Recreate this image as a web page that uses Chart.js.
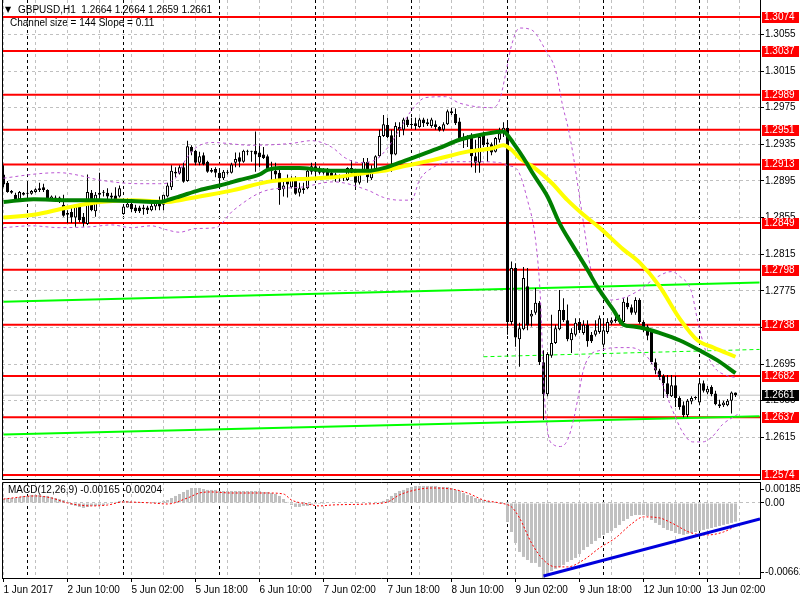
<!DOCTYPE html>
<html><head><meta charset="utf-8">
<script src="https://cdn.jsdelivr.net/npm/chart.js@4.4.1/dist/chart.umd.min.js"></script>
<style>
html,body{margin:0;padding:0;background:#fff;}
#wrap{position:relative;width:800px;height:600px;overflow:hidden;background:#fff;}
canvas{position:absolute;left:0;}
#main{top:0;}
#macd{top:468px;}
.lbl{position:absolute;font-family:'Liberation Sans',Arial,sans-serif;font-size:10px;color:#000;white-space:pre;line-height:12px;}
</style></head><body>
<div id="wrap">
<canvas id="main" width="800" height="480"></canvas>
<canvas id="macd" width="800" height="132"></canvas>
<div class="lbl" style="left:5px;top:4px;font-family:'DejaVu Sans';font-size:8px;">▼</div>
<div class="lbl" style="left:18px;top:4px;">GBPUSD,H1  1.2664 1.2664 1.2659 1.2661</div>
<div class="lbl" style="left:10px;top:17px;">Channel size = 144 Slope = 0.11</div>
<div class="lbl" style="left:8px;top:484px;">MACD(12,26,9) -0.00165 -0.00204</div>
</div>
<script>
// ---------- DATA ----------
const opens = [
1.2902,1.2893,1.2884,1.2880,1.2875,1.2880,1.2881,1.2881,1.2883,1.2885,
1.2888,1.2885,1.2874,1.2877,1.2877,1.2869,1.2860,1.2861,1.2855,1.2867,
1.2856,1.2848,1.2882,1.2862,1.2880,1.2882,1.2882,1.2879,1.2879,1.2878,
1.2859,1.2866,1.2870,1.2866,1.2866,1.2866,1.2866,1.2863,1.2867,1.2872,
1.2869,1.2878,1.2888,1.2905,1.2903,1.2910,1.2895,1.2932,1.2928,1.2915,
1.2923,1.2916,1.2907,1.2908,1.2904,1.2898,1.2904,1.2904,1.2915,1.2921,
1.2916,1.2928,1.2927,1.2928,1.2926,1.2924,1.2922,1.2909,1.2906,1.2904,
1.2886,1.2898,1.2888,1.2898,1.2882,1.2887,1.2887,1.2905,1.2911,1.2908,
1.2905,1.2905,1.2904,1.2902,1.2899,1.2899,1.2896,1.2909,1.2905,1.2893,
1.2904,1.2916,1.2898,1.2906,1.2922,1.2944,1.2956,1.2945,1.2924,1.2954,
1.2951,1.2962,1.2957,1.2958,1.2954,1.2962,1.2959,1.2955,1.2957,1.2954,
1.2951,1.2957,1.2971,1.2968,1.2960,1.2943,1.2941,1.2943,1.2922,1.2915,
1.2945,1.2937,1.2935,1.2927,1.2940,1.2947,1.2953,1.2741,1.2800,1.2722,
1.2733,1.2780,1.2747,1.2751,1.2762,1.2697,1.2662,1.2704,1.2718,1.2733,
1.2754,1.2743,1.2721,1.2727,1.2741,1.2729,1.2738,1.2727,1.2727,1.2730,
1.2716,1.2730,1.2740,1.2742,1.2744,1.2741,1.2762,1.2757,1.2751,1.2765,
1.2741,1.2736,1.2730,1.2697,1.2688,1.2682,1.2674,1.2660,1.2672,1.2658,
1.2650,1.2639,1.2654,1.2658,1.2653,1.2674,1.2664,1.2670,1.2663,1.2651,
1.2650,1.2650,1.2655,1.2664];
const highs = [
1.2912,1.2895,1.2885,1.2882,1.2884,1.2883,1.2894,1.2885,1.2887,1.2893,
1.2892,1.2886,1.2879,1.2879,1.2878,1.2880,1.2863,1.2867,1.2869,1.2869,
1.2860,1.2902,1.2885,1.2883,1.2904,1.2885,1.2887,1.2882,1.2888,1.2890,
1.2869,1.2876,1.2872,1.2869,1.2868,1.2869,1.2868,1.2870,1.2874,1.2878,
1.2880,1.2893,1.2912,1.2910,1.2912,1.2915,1.2939,1.2934,1.2929,1.2927,
1.2926,1.2917,1.2909,1.2910,1.2909,1.2907,1.2907,1.2915,1.2926,1.2926,
1.2929,1.2929,1.2928,1.2949,1.2936,1.2932,1.2924,1.2916,1.2915,1.2907,
1.2896,1.2902,1.2900,1.2900,1.2893,1.2893,1.2907,1.2915,1.2915,1.2911,
1.2909,1.2909,1.2906,1.2904,1.2902,1.2900,1.2910,1.2918,1.2907,1.2905,
1.2920,1.2920,1.2912,1.2923,1.2951,1.2967,1.2964,1.2951,1.2959,1.2959,
1.2964,1.2965,1.2964,1.2964,1.2964,1.2964,1.2963,1.2964,1.2961,1.2955,
1.2959,1.2973,1.2975,1.2974,1.2964,1.2947,1.2945,1.2947,1.2940,1.2945,
1.2949,1.2941,1.2937,1.2943,1.2953,1.2959,1.2959,1.2807,1.2805,1.2740,
1.2801,1.2800,1.2754,1.2778,1.2764,1.2710,1.2708,1.2749,1.2738,1.2776,
1.2767,1.2760,1.2734,1.2745,1.2745,1.2743,1.2743,1.2730,1.2743,1.2748,
1.2745,1.2745,1.2746,1.2748,1.2749,1.2767,1.2768,1.2760,1.2768,1.2767,
1.2743,1.2738,1.2732,1.2701,1.2690,1.2684,1.2683,1.2683,1.2682,1.2660,
1.2654,1.2657,1.2660,1.2660,1.2678,1.2677,1.2671,1.2672,1.2666,1.2656,
1.2655,1.2657,1.2665,1.2664];
const lows = [
1.2888,1.2882,1.2881,1.2872,1.2874,1.2879,1.2874,1.2880,1.2882,1.2883,
1.2883,1.2873,1.2873,1.2874,1.2871,1.2856,1.2849,1.2849,1.2845,1.2850,
1.2845,1.2847,1.2862,1.2856,1.2874,1.2878,1.2874,1.2874,1.2874,1.2877,
1.2858,1.2866,1.2861,1.2860,1.2860,1.2858,1.2859,1.2862,1.2863,1.2863,
1.2863,1.2877,1.2885,1.2899,1.2902,1.2893,1.2894,1.2923,1.2912,1.2912,
1.2912,1.2904,1.2904,1.2899,1.2891,1.2896,1.2902,1.2903,1.2910,1.2910,
1.2915,1.2923,1.2916,1.2905,1.2910,1.2919,1.2907,1.2896,1.2894,1.2869,
1.2878,1.2877,1.2887,1.2880,1.2878,1.2881,1.2886,1.2902,1.2902,1.2902,
1.2902,1.2898,1.2898,1.2894,1.2894,1.2895,1.2895,1.2902,1.2885,1.2891,
1.2902,1.2893,1.2896,1.2905,1.2921,1.2943,1.2942,1.2905,1.2923,1.2943,
1.2945,1.2954,1.2954,1.2951,1.2953,1.2954,1.2955,1.2953,1.2951,1.2949,
1.2949,1.2956,1.2967,1.2956,1.2938,1.2931,1.2932,1.2910,1.2904,1.2904,
1.2932,1.2916,1.2923,1.2926,1.2937,1.2943,1.2727,1.2738,1.2714,1.2692,
1.2732,1.2732,1.2736,1.2749,1.2694,1.2634,1.2660,1.2702,1.2717,1.2732,
1.2741,1.2720,1.2707,1.2725,1.2729,1.2727,1.2714,1.2718,1.2725,1.2728,
1.2713,1.2728,1.2738,1.2740,1.2739,1.2739,1.2755,1.2749,1.2749,1.2739,
1.2730,1.2721,1.2695,1.2684,1.2678,1.2658,1.2658,1.2659,1.2648,1.2645,
1.2637,1.2637,1.2651,1.2656,1.2650,1.2664,1.2662,1.2660,1.2650,1.2647,
1.2648,1.2649,1.2641,1.2659];
const closes = [
1.2891,1.2883,1.2882,1.2874,1.2883,1.2882,1.2882,1.2884,1.2886,1.2887,
1.2885,1.2874,1.2878,1.2875,1.2872,1.2857,1.2858,1.2855,1.2867,1.2852,
1.2849,1.2883,1.2863,1.2880,1.2882,1.2883,1.2878,1.2877,1.2875,1.2887,
1.2867,1.2870,1.2864,1.2862,1.2862,1.2864,1.2863,1.2868,1.2872,1.2867,
1.2880,1.2890,1.2906,1.2903,1.2910,1.2894,1.2933,1.2927,1.2915,1.2922,
1.2913,1.2905,1.2905,1.2904,1.2898,1.2905,1.2905,1.2913,1.2919,1.2916,
1.2928,1.2927,1.2928,1.2924,1.2921,1.2920,1.2908,1.2906,1.2902,1.2885,
1.2890,1.2891,1.2898,1.2881,1.2887,1.2885,1.2906,1.2911,1.2905,1.2904,
1.2904,1.2900,1.2899,1.2898,1.2898,1.2898,1.2909,1.2904,1.2893,1.2902,
1.2916,1.2899,1.2907,1.2922,1.2944,1.2957,1.2943,1.2924,1.2955,1.2951,
1.2962,1.2956,1.2956,1.2955,1.2962,1.2958,1.2957,1.2962,1.2954,1.2950,
1.2957,1.2971,1.2969,1.2958,1.2941,1.2941,1.2943,1.2922,1.2915,1.2943,
1.2934,1.2935,1.2926,1.2942,1.2947,1.2953,1.2741,1.2800,1.2724,1.2734,
1.2789,1.2737,1.2750,1.2762,1.2697,1.2662,1.2706,1.2718,1.2734,1.2754,
1.2743,1.2722,1.2729,1.2740,1.2732,1.2738,1.2720,1.2720,1.2732,1.2745,
1.2732,1.2741,1.2743,1.2744,1.2741,1.2763,1.2757,1.2751,1.2765,1.2741,
1.2734,1.2726,1.2697,1.2688,1.2681,1.2674,1.2662,1.2672,1.2658,1.2648,
1.2639,1.2655,1.2658,1.2659,1.2674,1.2666,1.2668,1.2662,1.2651,1.2649,
1.2653,1.2655,1.2664,1.2661];

// moving averages (read at sample bars)
const greenBars = [0,7.5,16,24,32,39,41,44,49,54,59,64,66,69,74,79,83,91,95,99,104,109,114,120,125,126,128,130,132.5,136,139,142.5,146,148.5,152.5,155,157.5,161,164,169,174,178.5,183];
const greenVals = [1.2872,1.2875,1.2874,1.2874,1.2873,1.2872,1.2874,1.2878,1.2885,1.2890,1.2896,1.2902,1.2907,1.2909,1.2909,1.2907,1.2906,1.2906,1.2909,1.2915,1.2923,1.2931,1.2940,1.2946,1.2949,1.2945,1.2933,1.2920,1.2902,1.2878,1.2849,1.2823,1.2798,1.2779,1.2754,1.2738,1.2736,1.2733,1.2729,1.2721,1.2710,1.2699,1.2685];
const yellowBars = [0,7.5,16,24,32.5,41,44,49,57.5,66,74,82.5,91,95,99,107.5,116,122.5,125,127,129,132.5,137,141,145,149,155,159,164,169,173.5,177.5,183];
const yellowVals = [1.2855,1.2858,1.2866,1.2872,1.2874,1.2872,1.2874,1.2878,1.2885,1.2894,1.2897,1.2899,1.2904,1.2906,1.2910,1.2918,1.2927,1.2931,1.2934,1.2929,1.2920,1.2910,1.2893,1.2874,1.2858,1.2844,1.2820,1.2806,1.2780,1.2745,1.2721,1.2713,1.2703];
const upBars = [0,9,14,19,24,34,39,43,45.5,48,52,62,72,77,82,85.5,89,93,96,99,102,105.5,110.5,114,122,124,125.5,127,129,132,135.5,138,139.75,141.25,142.5,143.75,145,146.75,148.5,152,155.5,159,163,167,169,172,173.5,175.5,178,180.5,183.5];
const upVals = [1.2898,1.2903,1.2904,1.2901,1.2896,1.2892,1.2892,1.2898,1.2918,1.2931,1.2937,1.2934,1.2936,1.2939,1.2932,1.2920,1.2915,1.2918,1.2931,1.2951,1.2972,1.2986,1.2987,1.2980,1.2975,1.2983,1.3011,1.3043,1.3062,1.3060,1.3038,1.3016,1.2978,1.2951,1.2921,1.2885,1.2849,1.2800,1.2776,1.2765,1.2768,1.2776,1.2789,1.2796,1.2791,1.2774,1.2743,1.2710,1.2690,1.2683,1.2680];
const loBars = [0,7,14,22,27,32,37,40.5,44,48,53,57.5,66,74,82.5,91,95,99,102,104,107.5,112,119,124,126,128.5,131,133,134.25,135,136,137.5,139.25,141,142.5,143.75,145,146.75,149.25,153,156.75,160.5,163.75,166.75,169.75,172.25,174.75,177.25,179.75,183.5];
const loVals = [1.2844,1.2846,1.2844,1.2845,1.2847,1.2844,1.2846,1.2842,1.2839,1.2843,1.2844,1.2863,1.2885,1.2888,1.2894,1.2885,1.2877,1.2874,1.2874,1.2896,1.2910,1.2916,1.2916,1.2915,1.2912,1.2907,1.2874,1.2831,1.2765,1.2678,1.2623,1.2607,1.2605,1.2612,1.2634,1.2661,1.2689,1.2705,1.2710,1.2713,1.2713,1.2705,1.2683,1.2650,1.2621,1.2610,1.2610,1.2616,1.2629,1.2640];

// regression channel (values at its anchor bars)
const channelBars = [0, 189];
const channelUpper = [1.2763, 1.2784];
const channelLower = [1.2618, 1.2638];
const middleBars = [120, 189];
const channelMiddle = [1.2703, 1.2711];

// horizontal levels
const levels = [1.3074, 1.3037, 1.2989, 1.2951, 1.2913, 1.2849, 1.2798, 1.2738, 1.2682, 1.2637, 1.2574];
const currentPrice = 1.2661;
const priceTicks = [1.2615, 1.2655, 1.2695, 1.2735, 1.2775, 1.2815, 1.2855, 1.2895, 1.2935, 1.2975, 1.3015, 1.3055];

// time axis
const labelBars = [0, 16, 32, 48, 64, 80, 96, 112, 128, 144, 160, 176];
const labelTexts = ['1 Jun 2017', '2 Jun 10:00', '5 Jun 02:00', '5 Jun 18:00', '6 Jun 10:00', '7 Jun 02:00', '7 Jun 18:00', '8 Jun 10:00', '9 Jun 02:00', '9 Jun 18:00', '12 Jun 10:00', '13 Jun 02:00'];
const separatorBars = [6, 30, 54, 78, 102, 126, 150, 174];
const gridBars = [0, 8, 16, 24, 32, 40, 48, 56, 64, 72, 80, 88, 96, 104, 112, 120, 128, 136, 144, 152, 160, 168, 176, 184];

// MACD
const macdHist = [
0.00035,0.00044,0.00044,0.00044,0.00053,0.00062,0.00062,0.00071,0.00071,0.00071,
0.00062,0.00062,0.00053,0.00044,0.00035,0.00026,0.00009,-0.00018,-0.00026,-0.00035,
-0.00044,-0.00035,-0.00026,-0.00026,-0.00018,-0.00018,-0.00009,0,0.00009,0.00018,
0.00018,0.00018,0.00009,0.00009,0,0,0,0,0.00009,0.00009,
0.00018,0.00026,0.00044,0.00062,0.00079,0.00097,0.00115,0.00132,0.00132,0.00132,
0.00123,0.00115,0.00115,0.00115,0.00106,0.00106,0.00106,0.00106,0.00106,0.00106,
0.00106,0.00106,0.00106,0.00106,0.00106,0.00097,0.00097,0.00088,0.00079,0.00062,
0.00035,0.00009,-0.00018,-0.00035,-0.00035,-0.00026,-0.00026,-0.00018,-0.00009,-0.00009,
-0.00009,0,0,0,0,0,0,0,0,0,
0,0,0,0.00009,0.00009,0.00018,0.00035,0.00062,0.00088,0.00106,
0.00115,0.00132,0.00141,0.00150,0.00150,0.00150,0.00150,0.00150,0.00150,0.00141,
0.00141,0.00141,0.00132,0.00115,0.00106,0.00088,0.00071,0.00062,0.00044,0.00035,
0.00026,0.00018,0.00009,0,-0.00009,-0.00009,-0.00168,-0.00256,-0.00353,-0.00432,
-0.00476,-0.00503,-0.00529,-0.00529,-0.00564,-0.00662,-0.00626,-0.00600,-0.00582,-0.00564,
-0.00547,-0.00520,-0.00503,-0.00485,-0.00450,-0.00415,-0.00388,-0.00362,-0.00335,-0.00309,
-0.00282,-0.00265,-0.00247,-0.00221,-0.00194,-0.00159,-0.00141,-0.00115,-0.00106,-0.00106,
-0.00106,-0.00115,-0.00150,-0.00176,-0.00194,-0.00221,-0.00238,-0.00247,-0.00265,-0.00273,
-0.00282,-0.00273,-0.00265,-0.00256,-0.00247,-0.00238,-0.00229,-0.00221,-0.00212,-0.00203,
-0.00194,-0.00185,-0.00176,-0.00165];
const signalBars = [0,8,12,16,22,26,30,37,41,46,49,52,57,66,70,72,76,79,82,91,96,99,103,107,112,116,120,124,127,129,132,135,138,141,145,149,153,157,160,164,167,172,176,180,183];
const signalVals = [0.00035,0.00062,0.00044,0,-0.00026,-0.00018,0.00009,0,-0.00009,0.00044,0.00088,0.00097,0.00088,0.00088,0.00079,0.00026,-0.00009,-0.00026,-0.00018,-0.00009,0.00009,0.00071,0.00115,0.00132,0.00123,0.00088,0.00026,0,-0.00035,-0.00132,-0.00353,-0.00503,-0.00564,-0.00564,-0.00503,-0.00397,-0.00309,-0.00185,-0.00123,-0.00132,-0.00176,-0.00265,-0.00282,-0.00256,-0.00204];
const trendBars = [135, 189.125];
const trendVals = [-0.00644, -0.00141];
const macdMax = 0.00185, macdMin = -0.00662;
const macdTickLabels = ['-0.00662', '0.00', '0.00185'];

// ---------- RENDER ----------
const FONT = "'Liberation Sans',Arial,sans-serif";
Chart.defaults.font.family = FONT;
Chart.defaults.font.size = 10;
Chart.defaults.color = '#000';

const XMIN = -0.375, XMAX = 189.125;
const YMIN = 1.25695, YMAX = 1.30926;
const sepSet = new Set(separatorBars);
const vTicks = gridBars.concat(separatorBars).sort((a, b) => a - b);
const noPad = (s) => { s.paddingTop = 0; s.paddingBottom = 0; s.paddingLeft = 0; s.paddingRight = 0; };

function lineDs(xs, ys, color, width, dash, order, smooth) {
  return {
    type: 'line', data: xs.map((x, i) => ({ x: x, y: ys[i] })),
    borderColor: color, borderWidth: width, borderDash: dash || [],
    pointRadius: 0, fill: false, tension: 0, order: order,
    cubicInterpolationMode: smooth ? 'monotone' : 'default'
  };
}

const mainDecor = {
  id: 'mainDecor',
  afterDraw(chart) {
    const ctx = chart.ctx, a = chart.chartArea, ys = chart.scales.y;
    ctx.save();
    ctx.strokeStyle = '#000'; ctx.lineWidth = 1;
    ctx.beginPath(); ctx.moveTo(a.left + 0.5, a.top); ctx.lineTo(a.left + 0.5, a.bottom); ctx.stroke();
    ctx.font = '10px ' + FONT; ctx.textBaseline = 'middle'; ctx.textAlign = 'left';
    const box = (v, bg) => {
      const y = Math.round(ys.getPixelForValue(v));
      ctx.fillStyle = bg; ctx.fillRect(a.right + 2, y - 5, 37, 11);
      ctx.fillStyle = '#fff'; ctx.fillText(v.toFixed(4), a.right + 4, y + 0.5);
    };
    levels.forEach(v => box(v, '#ff0000'));
    box(currentPrice, '#000000');
    ctx.restore();
  }
};

const mainDatasets = [];
levels.forEach(v => mainDatasets.push(lineDs([XMIN, XMAX], [v, v], '#ff0000', 2, [], 100)));
mainDatasets.push(lineDs([XMIN, XMAX], [currentPrice, currentPrice], '#c0c0c0', 1, [], 99));
mainDatasets.push(lineDs(channelBars, channelUpper, '#00ff00', 2, [], 90));
mainDatasets.push(lineDs(channelBars, channelLower, '#00ff00', 2, [], 90));
mainDatasets.push(lineDs(middleBars, channelMiddle, '#00ff00', 1, [4, 3], 90));
mainDatasets.push({
  type: 'bar', order: 50, grouped: false, barThickness: 1, inflateAmount: 0,
  data: highs.map((h, i) => ({ x: i, y: [lows[i], h] })),
  backgroundColor: '#000000', borderWidth: 0
});
mainDatasets.push({
  type: 'bar', order: 40, grouped: false, barThickness: 3, inflateAmount: 0, minBarLength: 1,
  data: opens.map((o, i) => ({ x: i, y: [o, closes[i]] })),
  backgroundColor: (c) => closes[c.dataIndex] >= opens[c.dataIndex] ? '#ffffff' : '#000000',
  borderColor: '#000000', borderWidth: 1, borderSkipped: false
});
mainDatasets.push(lineDs(upBars, upVals, '#ba55d3', 1, [3, 3], 30, true));
mainDatasets.push(lineDs(loBars, loVals, '#ba55d3', 1, [3, 3], 30, true));
mainDatasets.push(lineDs(yellowBars, yellowVals, '#ffff00', 4, [], 20, true));
mainDatasets.push(lineDs(greenBars, greenVals, '#008000', 4, [], 10, true));

new Chart(document.getElementById('main'), {
  type: 'bar',
  data: { datasets: mainDatasets },
  options: {
    responsive: false, animation: false, devicePixelRatio: 1,
    layout: { padding: { left: 2, right: 0, top: 0, bottom: 1 } },
    plugins: { legend: { display: false }, tooltip: { enabled: false } },
    scales: {
      x: {
        type: 'linear', min: XMIN, max: XMAX, offset: false,
        afterBuildTicks: (s) => { s.ticks = vTicks.map(v => ({ value: v })); },
        afterFit: (s) => { s.height = 0; noPad(s); },
        ticks: { display: false },
        grid: { offset: false, drawTicks: false,
          color: (c) => (c.tick && sepSet.has(c.tick.value)) ? '#000000' : '#c0c0c0' },
        border: { display: true, color: '#000', dash: [3, 3] }
      },
      y: {
        type: 'linear', position: 'right', min: YMIN, max: YMAX,
        afterBuildTicks: (s) => { s.ticks = priceTicks.map(v => ({ value: v })); },
        afterFit: (s) => { s.width = 40; noPad(s); },
        ticks: { padding: 1, autoSkip: false, callback: (v) => Number(v).toFixed(4) },
        grid: { color: '#c0c0c0', drawTicks: true, tickLength: 4, tickColor: '#000' },
        border: { display: true, color: '#000', dash: [3, 3] }
      }
    }
  },
  plugins: [mainDecor]
});

// MACD pane
const macdDecor = {
  id: 'macdDecor',
  afterDraw(chart) {
    const ctx = chart.ctx, a = chart.chartArea;
    ctx.save();
    ctx.strokeStyle = '#000'; ctx.lineWidth = 1;
    ctx.beginPath();
    ctx.moveTo(a.left + 0.5, a.bottom); ctx.lineTo(a.left + 0.5, a.top + 0.5); ctx.lineTo(a.right, a.top + 0.5);
    ctx.stroke();
    ctx.restore();
  }
};
const macdRange = macdMax - macdMin;
const labelMap = new Map(labelBars.map((b, i) => [b, labelTexts[i]]));

new Chart(document.getElementById('macd'), {
  type: 'bar',
  data: {
    datasets: [
      { type: 'bar', order: 20, grouped: false, barThickness: 3, inflateAmount: 0,
        data: macdHist.map((v, i) => ({ x: i, y: v })), backgroundColor: '#c0c0c0', borderWidth: 0 },
      lineDs(signalBars, signalVals, '#ff0000', 1, [2, 2], 10, true),
      lineDs(trendBars, trendVals, '#0000dd', 3, [], 5)
    ]
  },
  options: {
    responsive: false, animation: false, devicePixelRatio: 1,
    layout: { padding: { left: 2, right: 0, top: 14, bottom: 0 } },
    plugins: { legend: { display: false }, tooltip: { enabled: false } },
    scales: {
      x: {
        type: 'linear', min: XMIN, max: XMAX, offset: false,
        afterBuildTicks: (s) => { s.ticks = vTicks.map(v => ({ value: v })); },
        afterFit: (s) => { s.height = 22; noPad(s); },
        ticks: { autoSkip: false, maxRotation: 0, minRotation: 0, align: 'start', padding: 2,
          callback: (v) => labelMap.has(v) ? labelMap.get(v) : '' },
        grid: { offset: false, drawTicks: true, tickLength: 4,
          color: (c) => (c.tick && sepSet.has(c.tick.value)) ? '#000000' : '#c0c0c0',
          tickColor: (c) => (c.tick && labelMap.has(c.tick.value)) ? '#000' : 'rgba(0,0,0,0)' },
        border: { display: true, color: '#000', dash: [3, 3] }
      },
      y: {
        type: 'linear', position: 'right', min: macdMin, max: macdMax,
        afterBuildTicks: (s) => {
          s.ticks = [macdMin + macdRange * 0.06, 0, macdMax - macdRange * 0.075].map(v => ({ value: v }));
        },
        afterFit: (s) => { s.width = 40; noPad(s); },
        ticks: { padding: 1, autoSkip: false, callback: (v, i) => macdTickLabels[i] },
        grid: { drawTicks: true, tickLength: 4, tickColor: '#000',
          color: (c) => (c.tick && c.tick.value === 0) ? '#c0c0c0' : 'rgba(0,0,0,0)' },
        border: { display: true, color: '#000', dash: [3, 3] }
      }
    }
  },
  plugins: [macdDecor]
});
</script>
</body></html>
